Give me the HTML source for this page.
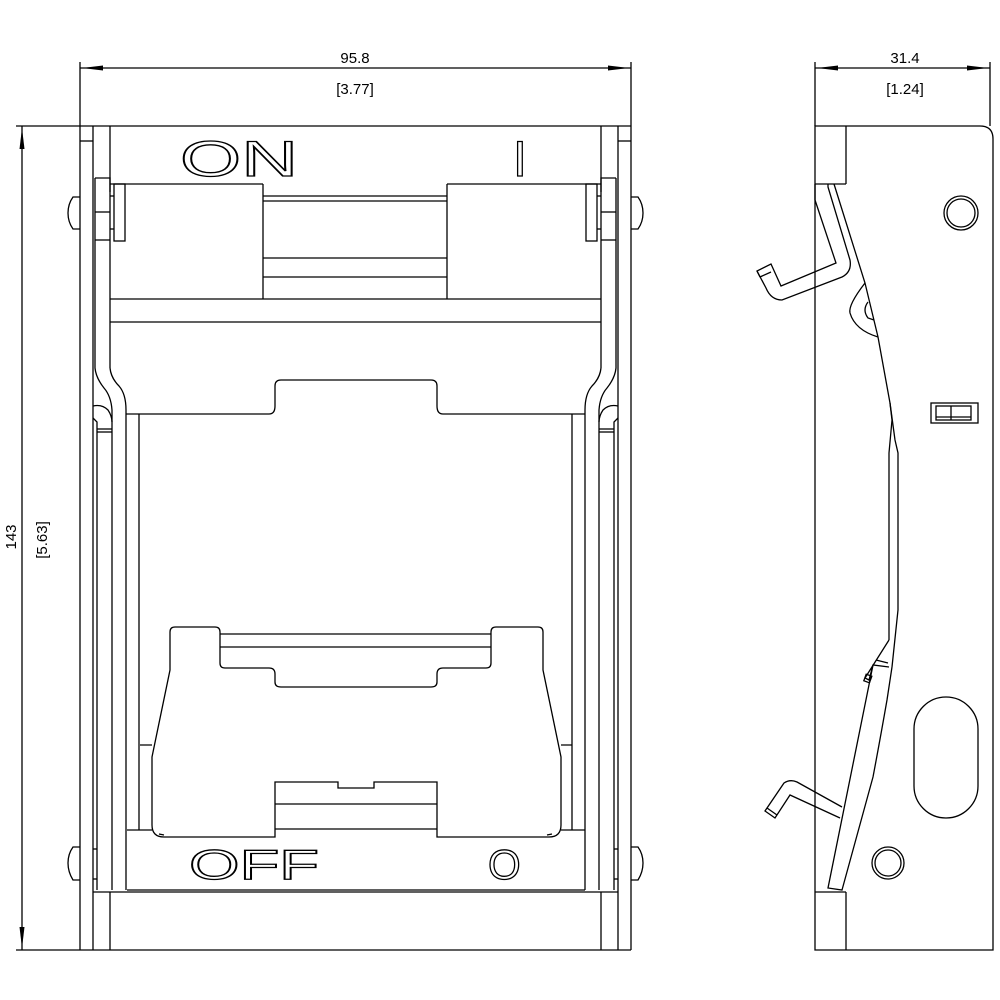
<!DOCTYPE html>
<html><head><meta charset="utf-8"><style>
html,body{margin:0;padding:0;background:#fff;}
svg{display:block;}
text{font-family:"Liberation Sans",sans-serif;}
</style></head><body>
<svg width="1000" height="1000" viewBox="0 0 1000 1000" xmlns="http://www.w3.org/2000/svg">
<rect width="1000" height="1000" fill="#fff"/>
<g fill="none" stroke="#000" stroke-width="1.3">
<!-- dimensions front -->
<line x1="80" y1="62" x2="80" y2="126"/><line x1="631" y1="62" x2="631" y2="126"/>
<line x1="80" y1="68" x2="631" y2="68"/>
<line x1="16" y1="126" x2="80" y2="126"/><line x1="16" y1="950" x2="80" y2="950"/>
<line x1="22" y1="126" x2="22" y2="950"/>
<!-- side dims -->
<line x1="815" y1="62" x2="815" y2="126"/><line x1="990" y1="62" x2="990" y2="126"/>
<line x1="815" y1="68" x2="990" y2="68"/>
</g>
<g fill="#000">
<polygon points="82,68 103,65.5 103,70.5"/><polygon points="629,68 608,65.5 608,70.5"/>
<polygon points="817,68 838,65.5 838,70.5"/><polygon points="988,68 967,65.5 967,70.5"/>
<polygon points="22,128 19.5,149 24.5,149"/><polygon points="22,948 19.5,927 24.5,927"/>
</g>
<g font-size="15" fill="#000" text-anchor="middle">
<text x="355" y="63">95.8</text><text x="355" y="94">[3.77]</text>
<text x="905" y="63">31.4</text><text x="905" y="94">[1.24]</text>
<text transform="translate(16,537) rotate(-90)">143</text>
<text transform="translate(47,540) rotate(-90)">[5.63]</text>
</g>

<!-- FRONT VIEW -->
<g fill="none" stroke="#000" stroke-width="1.3">
<line x1="80" y1="126" x2="631" y2="126"/>
<line x1="80" y1="950" x2="631" y2="950"/>
<line x1="80" y1="126" x2="80" y2="950"/><line x1="631" y1="126" x2="631" y2="950"/>
<line x1="93" y1="126" x2="93" y2="950"/><line x1="618" y1="126" x2="618" y2="950"/>
<line x1="110" y1="126" x2="110" y2="368"/><line x1="601" y1="126" x2="601" y2="368"/>
<line x1="110" y1="892" x2="110" y2="950"/><line x1="601" y1="892" x2="601" y2="950"/>
<line x1="80" y1="141" x2="93" y2="141"/><line x1="618" y1="141" x2="631" y2="141"/>
<line x1="93" y1="892" x2="618" y2="892"/>
<line x1="127" y1="890" x2="585" y2="890"/>
<!-- brackets left -->
<path d="M95,178 L110,178 L110,192 M95,178 L95,368 Q96,378 104,388 Q111,396 112,410 L112,890"/>
<path d="M110,368 Q111,378 119,386 Q126,394 126,410 L126,890"/>
<line x1="95" y1="212" x2="110" y2="212"/><line x1="95" y1="240" x2="110" y2="240"/>
<path d="M93,406 Q102,404 108,410 Q112,416 112,422"/>
<path d="M93,418 L97,422 L97,890"/>
<line x1="97" y1="429" x2="112" y2="429"/><line x1="97" y1="432" x2="112" y2="432"/>
<rect x="114" y="184" width="11" height="57"/>
<line x1="110" y1="196" x2="114" y2="196"/><line x1="110" y1="229" x2="114" y2="229"/>
<!-- brackets right -->
<path d="M616,178 L601,178 L601,192 M616,178 L616,368 Q615,378 607,388 Q600,396 599,410 L599,890"/>
<path d="M601,368 Q600,378 592,386 Q585,394 585,410 L585,890"/>
<line x1="601" y1="212" x2="616" y2="212"/><line x1="601" y1="240" x2="616" y2="240"/>
<path d="M618,406 Q609,404 603,410 Q599,416 599,422"/>
<path d="M618,418 L614,422 L614,890"/>
<line x1="599" y1="429" x2="614" y2="429"/><line x1="599" y1="432" x2="614" y2="432"/>
<rect x="586" y="184" width="11" height="57"/>
<line x1="597" y1="196" x2="601" y2="196"/><line x1="597" y1="229" x2="601" y2="229"/>
<!-- bolts -->
<path d="M80,197 L73,197 Q68,204 68,213 Q68,222 73,229 L80,229"/>
<path d="M631,197 L638,197 Q643,204 643,213 Q643,222 638,229 L631,229"/>
<path d="M80,847 L73,847 Q68,854 68,863 Q68,872 73,880 L80,880"/>
<path d="M631,847 L638,847 Q643,854 643,863 Q643,872 638,880 L631,880"/>
<line x1="93" y1="849" x2="97" y2="849"/><line x1="93" y1="879" x2="97" y2="879"/>
<line x1="614" y1="849" x2="618" y2="849"/><line x1="614" y1="879" x2="618" y2="879"/>
<!-- top assembly -->
<line x1="110" y1="184" x2="263" y2="184"/><line x1="263" y1="184" x2="263" y2="299"/>
<line x1="447" y1="184" x2="601" y2="184"/><line x1="447" y1="184" x2="447" y2="299"/>
<line x1="263" y1="196" x2="447" y2="196"/><line x1="263" y1="201" x2="447" y2="201"/>
<line x1="263" y1="258" x2="447" y2="258"/><line x1="263" y1="277" x2="447" y2="277"/>
<line x1="110" y1="299" x2="601" y2="299"/><line x1="110" y1="322" x2="601" y2="322"/>
<path d="M126,414 L269,414 Q275,414 275,406 L275,386 Q275,380 281,380 L431,380 Q437,380 437,386 L437,406 Q437,414 443,414 L585,414"/>
<line x1="139" y1="414" x2="139" y2="830"/><line x1="572" y1="414" x2="572" y2="830"/>
<!-- lower handle -->
<path d="M220,634 L491,634 M220,647 L491,647"/>
<path d="M170,670 L170,632 Q170,627 175,627 L215,627 Q220,627 220,632 L220,663 Q220,668 225,668 L269,668 Q275,668 275,674 L275,682 Q275,687 281,687 L431,687 Q437,687 437,682 L437,674 Q437,668 443,668 L486,668 Q491,668 491,663 L491,632 Q491,627 496,627 L538,627 Q543,627 543,632 L543,670 L561,757 L561,825 Q561,837 549,837 L437,837 L437,782 L374,782 L374,788 L338,788 L338,782 L275,782 L275,837 L164,837 Q152,837 152,825 L152,757 Z"/>
<line x1="275" y1="804" x2="437" y2="804"/><line x1="275" y1="829" x2="437" y2="829"/>
<path d="M127,830 L152,830 M140,745 L152,745"/>
<path d="M585,830 L561,830 M572,745 L561,745"/>
<path d="M159,834 L164,835 M552,834 L547,835"/>
</g>
<g font-size="50" fill="#fff" stroke="#000" stroke-width="1.3">
<text x="180" y="176" textLength="118" lengthAdjust="spacingAndGlyphs">ON</text>
<text x="513" y="176">I</text>
</g>
<g font-size="42" fill="#fff" stroke="#000" stroke-width="1.3">
<text x="189" y="879" textLength="130" lengthAdjust="spacingAndGlyphs">OFF</text>
<text x="488" y="879">O</text>
</g>

<!-- SIDE VIEW -->
<g fill="none" stroke="#000" stroke-width="1.3">
<path d="M815,126 L980,126 Q993,126 993,139 L993,950 L815,950 Z"/>
<line x1="815" y1="184" x2="846" y2="184"/><line x1="846" y1="126" x2="846" y2="184"/>
<line x1="815" y1="892" x2="846" y2="892"/><line x1="846" y1="892" x2="846" y2="950"/>
<circle cx="961" cy="213" r="17"/><circle cx="961" cy="213" r="14"/>
<circle cx="888" cy="863" r="16"/><circle cx="888" cy="863" r="13"/>
<rect x="914" y="697" width="64" height="121" rx="32"/>
<rect x="931" y="403" width="47" height="20"/>
<rect x="936" y="406" width="35" height="14"/>
<line x1="951" y1="406" x2="951" y2="420"/><line x1="936" y1="417" x2="971" y2="417"/>
<!-- upper hook -->
<path d="M815,184 L815,200 L836,263 L781,286 L771,264 L757,271 L766,288 Q771,300 782,300 L842,277 Q852,272 850,260 L828,187 L828,184"/>
<line x1="757" y1="271" x2="760" y2="277"/><line x1="760" y1="277" x2="771" y2="272"/>
<!-- slanted long -->
<path d="M834,184 L865,283 L878,337 L890,403 L892,420 L889,453 L889,640"/>
<path d="M865,283 Q848,305 850,313 Q855,330 878,337"/>
<path d="M868,302 Q862,310 868,318 L874,320"/>
<path d="M890,403 L895,440 L898,453 L898,610 L892,667"/>
<!-- lower arm -->
<path d="M889,640 L865,678 L869,680 L873,665 L889,667"/>
<path d="M876,660 L888,663 M873,665 L828,888 L842,890 L873,777 Q880,740 887,700 L892,667"/>
<rect x="865" y="675" width="6" height="7" transform="rotate(20 868 678)"/>
<!-- lower hook -->
<path d="M842,807 L797,782 Q790,779 784,783 L765,811 L775,818 L790,795 L840,818"/>
<line x1="767" y1="808" x2="777" y2="815"/>
</g>
</svg>
</body></html>
